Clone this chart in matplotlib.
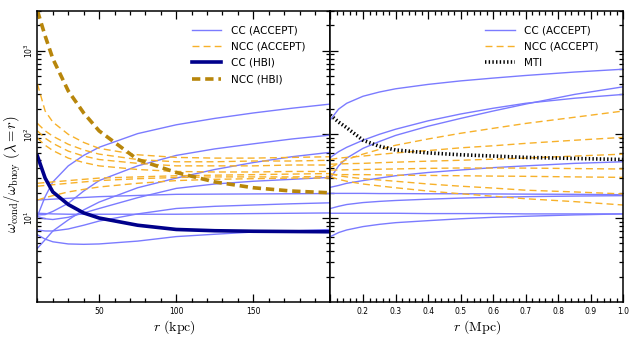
import matplotlib
matplotlib.use("Agg")
import matplotlib.pyplot as plt
from matplotlib.ticker import FixedLocator, MultipleLocator, LogLocator, NullFormatter

plt.rcParams["mathtext.fontset"] = "cm"
plt.rcParams["font.family"] = ["DejaVu Sans"]
plt.rcParams["lines.scale_dashes"] = False

# -------------------------
# Data
# -------------------------
r_kpc = [10, 15, 20, 30, 40, 50, 75, 100, 125, 150, 175, 200]

cc_accept_kpc = [
    [10.5, 18, 27, 42, 56, 70, 102, 130, 155, 180, 205, 230],
    [10.9, 11, 12, 15, 21, 28, 42, 56, 67, 77, 88, 98],
    [4.35, 5.5, 7, 9.5, 12.5, 15.5, 23, 30, 38, 46, 54, 61],
    [10.4, 9.8, 9.6, 10.2, 11.5, 13, 17.5, 22.6, 25.5, 27.5, 29, 30.6],
    [16.4, 16.6, 16.8, 17.2, 17.6, 18, 18.6, 19.2, 19.3, 19.4, 19.5, 19.6],
    [7.2, 7.0, 7.0, 7.4, 8.2, 9.2, 11.2, 13, 13.8, 14.3, 14.8, 15.2],
    [11.4, 11.3, 11.2, 11.1, 11.1, 11.1, 11.1, 11.1, 11.2, 11.3, 11.4, 11.5],
    [6.3, 5.6, 5.2, 4.9, 4.85, 4.9, 5.3, 6.0, 6.4, 6.8, 7.0, 7.3],
]

ncc_accept_kpc = [
    [400, 190, 140, 100, 80, 68, 57, 53, 52, 52, 53, 54],
    [135, 110, 95, 76, 65, 58, 50, 47, 47, 48, 48, 49],
    [110, 90, 78, 63, 55, 50, 45, 42, 42, 42, 43, 43],
    [90, 74, 64, 52, 46, 42, 38, 36, 35.5, 35.5, 36, 36],
    [26, 26.5, 27, 28, 29, 30, 31, 32, 32.5, 33, 33.5, 34],
    [24, 24.5, 25, 26, 27, 28, 29.5, 30.5, 31, 31, 31, 31.5],
    [16.4, 17.5, 18.5, 20.5, 22, 23.5, 26, 28, 29, 29.5, 30, 30],
]

cc_hbi = [55, 30, 20.5, 14.5, 11.5, 10, 8.2, 7.3, 7.05, 6.95, 6.9, 6.85]
ncc_hbi = [3000, 1500, 800, 330, 180, 110, 50, 35, 27, 23, 21, 20]

r_mpc = [0.1, 0.125, 0.15, 0.2, 0.25, 0.3, 0.4, 0.5, 0.6, 0.7, 0.85, 1.0]

cc_accept_mpc = [
    [150, 200, 235, 285, 320, 350, 395, 435, 470, 505, 555, 600],
    [53, 62, 70, 85, 100, 115, 145, 175, 205, 235, 270, 300],
    [30, 42, 52, 68, 82, 97, 125, 155, 190, 230, 300, 370],
    [23.3, 24.5, 26, 28, 30, 32, 35, 37.5, 40, 42, 45, 47],
    [19.7, 19.7, 19.7, 19.7, 19.6, 19.6, 19.5, 19.5, 19.4, 19.3, 19.2, 19.0],
    [13, 13.8, 14.5, 15.3, 15.8, 16.2, 16.8, 17.3, 17.7, 18, 18.3, 18.5],
    [11.4, 11.4, 11.4, 11.4, 11.4, 11.4, 11.3, 11.3, 11.3, 11.2, 11.2, 11.2],
    [6.0, 6.7, 7.2, 7.9, 8.4, 8.8, 9.3, 9.8, 10.2, 10.5, 10.9, 11.2],
]

ncc_accept_mpc = [
    [40, 45, 50, 58, 66, 74, 88, 103, 118, 135, 160, 190],
    [50, 52, 53, 55, 57.5, 60, 64, 69, 73, 78, 85, 92],
    [44, 44.3, 44.6, 45, 45.8, 46.5, 47.8, 49, 50.5, 52, 55, 58],
    [37.4, 37.5, 37.7, 38, 38.3, 38.6, 39.2, 39.6, 39.6, 39.5, 39, 38.5],
    [33, 33, 33, 33, 32.8, 32.5, 32.3, 32, 31.7, 31.5, 31, 30.6],
    [34, 32, 31, 29.5, 28.5, 27.5, 25.5, 24, 22.8, 21.5, 20.5, 19.4],
    [31, 29, 27.5, 25.5, 24.2, 23, 21, 19.5, 18.2, 17, 15.7, 14.3],
]

mti = [170, 140, 120, 85, 72, 65, 60, 57, 55, 53, 51.5, 50]

# -------------------------
# Styles
# -------------------------
C_CC = "#7b7bff"
C_NCC = "#f7b12a"
C_CC_HBI = "#00008b"
C_NCC_HBI = "#b8860b"

LEG_KW = dict(loc="upper right", bbox_to_anchor=(0.95, 0.985), frameon=False,
              fontsize=7.5, handlelength=2.8, handletextpad=0.9,
              labelspacing=0.6, borderaxespad=0.6)


def style_axis(ax):
    ax.set_yscale("log")
    ax.set_ylim(1, 3000)
    ax.tick_params(which="both", direction="in", top=True, right=True,
                   labelsize=5.5, width=0.9)
    ax.tick_params(which="major", length=5.5)
    ax.tick_params(which="minor", length=3)
    ax.tick_params(axis="y", pad=2)
    ax.tick_params(axis="x", pad=4)
    ax.yaxis.set_major_locator(FixedLocator([10, 100, 1000]))
    ax.yaxis.set_minor_locator(LogLocator(base=10, subs=range(2, 10)))
    ax.yaxis.set_minor_formatter(NullFormatter())
    for sp in ax.spines.values():
        sp.set_linewidth(1.1)


fig = plt.figure(figsize=(6.30, 3.41), dpi=100)
ax1 = fig.add_axes([0.0594, 0.1152, 0.4651, 0.8534])
ax2 = fig.add_axes([0.5245, 0.1152, 0.4651, 0.8534], sharey=ax1)

# -------------------------
# Left panel (kpc)
# -------------------------
for i, ys in enumerate(cc_accept_kpc):
    ax1.plot(r_kpc, ys, color=C_CC, lw=1.0, label="CC (ACCEPT)" if i == 0 else None)
for i, ys in enumerate(ncc_accept_kpc):
    ax1.plot(r_kpc, ys, color=C_NCC, lw=1.0, dashes=(5, 3),
             label="NCC (ACCEPT)" if i == 0 else None)
ax1.plot(r_kpc, cc_hbi, color=C_CC_HBI, lw=2.6, label="CC (HBI)")
ax1.plot(r_kpc, ncc_hbi, color=C_NCC_HBI, lw=2.6, dashes=(6, 3.5), label="NCC (HBI)")

style_axis(ax1)
ax1.set_xlim(10, 200)
ax1.xaxis.set_major_locator(FixedLocator([50, 100, 150, 200]))
ax1.xaxis.set_minor_locator(MultipleLocator(10))
ax1.set_xticklabels(["50", "100", "150", ""])
ax1.set_yticklabels(["10", r"$10^2$", r"$10^3$"], rotation=90, va="center")
ax1.set_xlabel(r"$r\ ({\rm kpc})$", fontsize=10)
ax1.xaxis.set_label_coords(0.466, -0.055)
ax1.set_ylabel(r"$\omega_{\rm cond}/\omega_{\rm buoy}\ (\lambda=r)$", fontsize=10.5)
ax1.yaxis.set_label_coords(-0.05, 0.44)
ax1.legend(**LEG_KW)

# -------------------------
# Right panel (Mpc)
# -------------------------
for i, ys in enumerate(cc_accept_mpc):
    ax2.plot(r_mpc, ys, color=C_CC, lw=1.0, label="CC (ACCEPT)" if i == 0 else None)
for i, ys in enumerate(ncc_accept_mpc):
    ax2.plot(r_mpc, ys, color=C_NCC, lw=1.0, dashes=(5, 3),
             label="NCC (ACCEPT)" if i == 0 else None)
ax2.plot(r_mpc, mti, color="black", lw=2.6, linestyle=":", label="MTI")

style_axis(ax2)
ax2.set_xlim(0.1, 1.0)
ax2.xaxis.set_minor_locator(MultipleLocator(0.02))
ax2.set_xticks([0.1, 0.2, 0.3, 0.4, 0.5, 0.6, 0.7, 0.8, 0.9, 1.0])
ax2.set_xticklabels(["", "0.2", "0.3", "0.4", "0.5", "0.6", "0.7", "0.8", "0.9", "1.0"])
ax2.tick_params(labelleft=False)
ax2.set_xlabel(r"$r\ ({\rm Mpc})$", fontsize=10)
ax2.xaxis.set_label_coords(0.5, -0.055)
ax2.legend(**LEG_KW)

fig.savefig("out.png", dpi=100)
